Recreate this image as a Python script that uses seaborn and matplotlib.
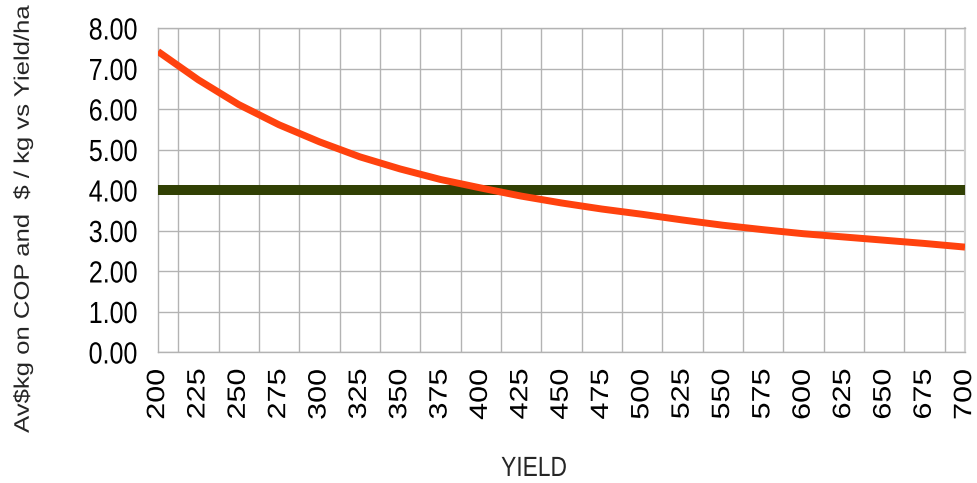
import matplotlib
matplotlib.use("Agg")
import matplotlib.pyplot as plt
import seaborn as sns
import pandas as pd
from matplotlib.ticker import FixedLocator, FormatStrFormatter
from matplotlib.patheffects import AbstractPathEffect
from matplotlib.transforms import Affine2D

yield_ha = [200, 225, 250, 275, 300, 325, 350, 375, 400, 425, 450,
            475, 500, 525, 550, 575, 600, 625, 650, 675, 700]
cop_per_kg = [7.42, 6.72, 6.11, 5.61, 5.19, 4.82, 4.52, 4.26, 4.05, 3.85, 3.68,
              3.53, 3.40, 3.26, 3.13, 3.02, 2.92, 2.84, 2.76, 2.68, 2.59]
price_per_kg = [4.00] * len(yield_ha)

x_ticks = list(range(200, 701, 25))
y_ticks = [0, 1, 2, 3, 4, 5, 6, 7, 8]


class Squeeze(AbstractPathEffect):
    """Narrow the glyphs horizontally (the reference text is condensed)."""
    def __init__(self, sx=0.82, anchor="center"):
        super().__init__()
        self.sx = sx
        self.anchor = anchor

    def draw_path(self, renderer, gc, tpath, affine, rgbFace=None):
        if len(tpath.vertices) == 0:
            renderer.draw_path(gc, tpath, affine, rgbFace)
            return
        v = affine.transform(tpath.vertices)
        if self.anchor == "right":
            x0 = v[:, 0].max()
        else:
            x0 = 0.5 * (v[:, 0].min() + v[:, 0].max())
        t = affine + Affine2D().translate(-x0, 0).scale(self.sx, 1).translate(x0, 0)
        renderer.draw_path(gc, tpath, t, rgbFace)


sns.set_style("white")
plt.rcParams['font.family'] = ['Liberation Sans', 'DejaVu Sans']

df = pd.DataFrame({"YIELD": yield_ha, "COP": cop_per_kg, "Price": price_per_kg})

fig = plt.figure(figsize=(9.78, 4.83), dpi=100)
ax = fig.add_axes([158/978, 1-352/483, 807/978, 324/483])

sns.lineplot(data=df, x="YIELD", y="Price", ax=ax, color="#314004",
             linewidth=7.2, solid_capstyle="butt", zorder=3)
sns.lineplot(data=df, x="YIELD", y="COP", ax=ax, color="#ff420e",
             linewidth=5.0, solid_capstyle="butt", zorder=4)

ax.set_xlim(200, 700)
ax.set_ylim(0, 8)
ax.xaxis.set_major_locator(FixedLocator(x_ticks))
ax.xaxis.set_minor_locator(FixedLocator([t + 12.5 for t in x_ticks[:-1]]))
ax.yaxis.set_major_locator(FixedLocator(y_ticks))
ax.yaxis.set_major_formatter(FormatStrFormatter("%.2f"))

grid_c = "#b3b3b3"
ax.grid(False)
ax.grid(True, which="minor", axis="x", color=grid_c, linewidth=1.0)
ax.grid(True, which="major", axis="y", color=grid_c, linewidth=1.0)
for s in ax.spines.values():
    s.set_color(grid_c)
    s.set_linewidth(1.0)
ax.spines['right'].set_color("#d0d0d0")
ax.spines['right'].set_linewidth(1.5)

ax.tick_params(axis="both", which="major", length=8, width=1.0, color=grid_c,
               labelsize=22, direction="out")
ax.tick_params(axis="x", which="major", pad=4, labelrotation=90)
ax.tick_params(axis="y", which="major", pad=6.5)
ax.tick_params(axis="x", which="minor", length=0)
for lab in ax.get_yticklabels():
    lab.set_color("#000000")
    lab.set_path_effects([Squeeze(0.82, "right")])
for lab in ax.get_xticklabels():
    lab.set_color("#000000")
    lab.set_path_effects([Squeeze(0.82, "center")])

ax.set_xlabel("YIELD", fontsize=20, labelpad=0)
ax.xaxis.label.set_verticalalignment("baseline")
ax.xaxis.label.set_path_effects([Squeeze(0.82, "center")])
ax.xaxis.set_label_coords((534-158)/807, (352-476)/324)

ax.set_ylabel("Av\\$kg on COP and  \\$ / kg vs Yield/ha", fontsize=18.5)
ax.yaxis.label.set_verticalalignment("center")
ax.yaxis.label.set_path_effects([Squeeze(0.82, "center")])
ax.yaxis.set_label_coords((23-158)/807, (352-219)/324)

fig.savefig("out.png", dpi=100)
